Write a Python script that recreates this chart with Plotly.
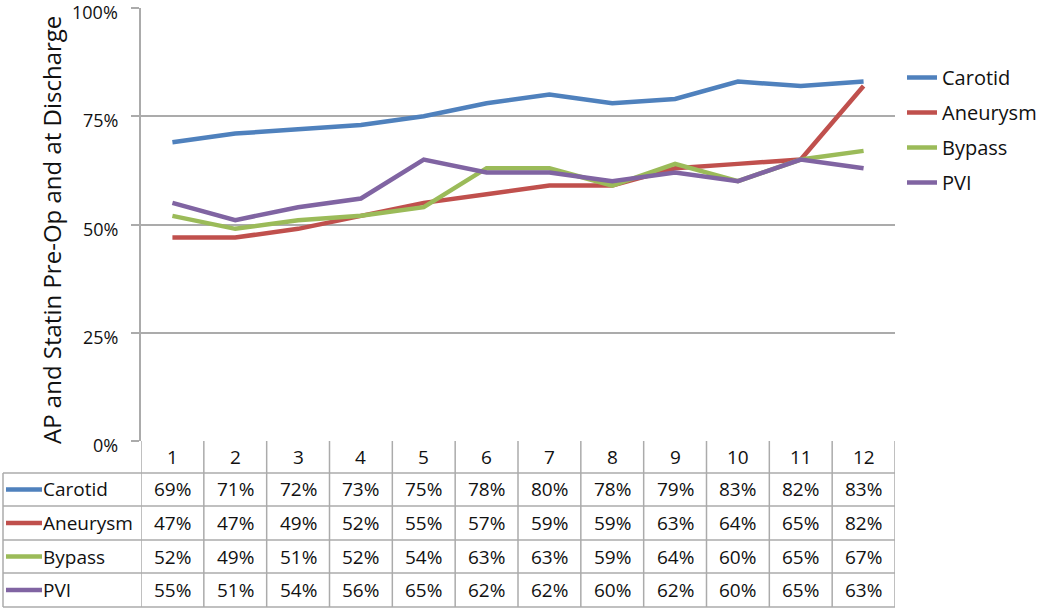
import plotly.graph_objects as go

months = [1, 2, 3, 4, 5, 6, 7, 8, 9, 10, 11, 12]
carotid = [69, 71, 72, 73, 75, 78, 80, 78, 79, 83, 82, 83]
aneurysm = [47, 47, 49, 52, 55, 57, 59, 59, 63, 64, 65, 82]
bypass = [52, 49, 51, 52, 54, 63, 63, 59, 64, 60, 65, 67]
pvi = [55, 51, 54, 56, 65, 62, 62, 60, 62, 60, 65, 63]
series_names = ["Carotid", "Aneurysm", "Bypass", "PVI"]
series_values = [carotid, aneurysm, bypass, pvi]
colors = ["#4F81BD", "#C0504D", "#9BBB59", "#8064A2"]
y_ticks = [0, 25, 50, 75, 100]
y_tick_labels = ["0%", "25%", "50%", "75%", "100%"]
y_title = "AP and Statin Pre-Op and at Discharge"

W, H = 1050, 613
L, R, T, B = 141, 895, 8, 441
PH = B - T
PW = R - L
FONT = "Open Sans, Liberation Sans, sans-serif"
GRID = "#ABABAB"
TXT = "#111111"


def py(pix):
    return (B - pix) / PH


def px(pix):
    return (pix - L) / PW


fig = go.Figure()
for name, vals, c in zip(series_names, series_values, colors):
    fig.add_trace(go.Scatter(
        x=months, y=vals, mode="lines", name=name, legendgroup=name,
        line=dict(color=c, width=4.5), hoverinfo="skip"))

shapes = []
annotations = []

row_lines = [473, 506, 540, 573, 607]
row_centers = [457, 489.5, 523, 556.5, 590]
left_edge = 3

for yl in row_lines:
    shapes.append(dict(type="line", xref="paper", yref="paper",
                       x0=px(left_edge), x1=1, y0=py(yl), y1=py(yl),
                       line=dict(color=GRID, width=1.5)))
for i in range(len(months) + 1):
    xb = months[0] - 0.5 + i
    shapes.append(dict(type="line", xref="x", yref="paper",
                       x0=xb, x1=xb, y0=py(441), y1=py(607),
                       line=dict(color=GRID, width=1.5)))
shapes.append(dict(type="line", xref="paper", yref="paper",
                   x0=px(left_edge), x1=px(left_edge), y0=py(473), y1=py(607),
                   line=dict(color=GRID, width=1.5)))

for m in months:
    annotations.append(dict(x=m, y=py(row_centers[0]), xref="x", yref="paper",
                            text=str(m), showarrow=False,
                            xanchor="center", yanchor="middle",
                            font=dict(size=19, color=TXT, family=FONT)))
for r, (name, vals, c) in enumerate(zip(series_names, series_values, colors)):
    yc = py(row_centers[r + 1])
    shapes.append(dict(type="line", xref="paper", yref="paper",
                       x0=px(6), x1=px(42), y0=yc, y1=yc,
                       line=dict(color=c, width=4.5)))
    annotations.append(dict(x=px(41), y=yc, xref="paper", yref="paper",
                            text=name, showarrow=False,
                            xanchor="left", yanchor="middle",
                            font=dict(size=19, color=TXT, family=FONT)))
    for m, v in zip(months, vals):
        annotations.append(dict(x=m, y=yc, xref="x", yref="paper",
                                text=f"{v}%", showarrow=False,
                                xanchor="center", yanchor="middle",
                                font=dict(size=19, color=TXT, family=FONT)))

# y tick labels (drawn at the axis scale positions)
for tv, tt in zip(y_ticks, y_tick_labels):
    annotations.append(dict(x=px(120), y=tv, xref="paper", yref="y",
                            text=tt, showarrow=False,
                            xanchor="right", yanchor="middle", yshift=-4,
                            font=dict(size=18, color=TXT, family=FONT)))

annotations.append(dict(x=px(51), y=py(230), xref="paper", yref="paper",
                        text=y_title, showarrow=False, textangle=-90,
                        xanchor="center", yanchor="middle",
                        font=dict(size=24, color=TXT, family=FONT)))

fig.update_layout(
    width=W, height=H,
    margin=dict(l=L, r=W - R, t=T, b=H - B, pad=0),
    paper_bgcolor="white", plot_bgcolor="white",
    showlegend=True,
    legend=dict(x=px(902), y=py(58), xanchor="left", yanchor="top",
                font=dict(size=20, color=TXT, family=FONT),
                tracegroupgap=6, bgcolor="rgba(0,0,0,0)"),
    xaxis=dict(range=[0.5, 12.5], showgrid=False, showticklabels=False,
               zeroline=False, showline=False, ticks=""),
    yaxis=dict(range=[0, 100], tickvals=y_ticks, showticklabels=False,
               showgrid=True, gridcolor=GRID, gridwidth=1.5,
               zeroline=False, showline=True, linecolor=GRID, linewidth=1.5,
               ticks="outside", ticklen=8, tickcolor=GRID, tickwidth=1.5),
    shapes=shapes, annotations=annotations,
)

fig.write_html("out.html", config={"displayModeBar": False},
               post_script="document.body.style.margin='0';document.body.style.overflow='hidden';")
